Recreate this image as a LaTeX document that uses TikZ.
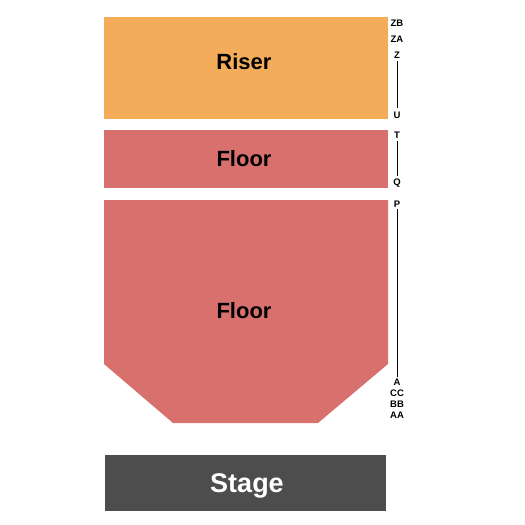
\documentclass[tikz,border=0pt]{standalone}
\usepackage{fontspec}
\setmainfont{Liberation Sans}
\definecolor{riser}{RGB}{243,173,90}
\definecolor{floorc}{RGB}{216,112,110}
\definecolor{stagec}{RGB}{77,77,77}
\begin{document}
\begin{tikzpicture}[x=1pt,y=-1pt,
  big/.style={font=\bfseries\fontsize{22}{22}\selectfont},
  row/.style={font=\bfseries\fontsize{9.5}{9.5}\selectfont, inner sep=0pt},
  rowline/.style={line width=0.9pt, black}]
\useasboundingbox (0,0) rectangle (525,525);
\fill[riser] (104,17) rectangle (388,119);
\fill[floorc] (104,130) rectangle (388,188);
\fill[floorc] (104,200) -- (388,200) -- (388,364) -- (318,423) -- (173,423) -- (104,364) -- cycle;
\fill[stagec] (105,455) rectangle (386,511);
\node[big] (riser) at (244,62) {Riser};
\node[big] (floor1) at (244,159) {Floor};
\node[big] (floor2) at (244,311) {Floor};
\node[font=\bfseries\fontsize{27}{27}\selectfont, text=white] (stage) at (247,486) {Stage};
\node[row] (zb) at (397,23) {ZB};
\node[row] (za) at (397,39) {ZA};
\node[row] (z) at (397,55) {Z};
\node[row] (u) at (397,115) {U};
\node[row] (t) at (397,135) {T};
\node[row] (q) at (397,183) {Q};
\node[row] (p) at (397,204) {P};
\node[row] (a) at (397,382) {A};
\node[row] (cc) at (397,393) {CC};
\node[row] (bb) at (397,404) {BB};
\node[row] (aa) at (397,415) {AA};
\draw[rowline] ([yshift=-3pt]z.south) -- ([yshift=3pt]u.north);
\draw[rowline] ([yshift=-3pt]t.south) -- ([yshift=3pt]q.north);
\draw[rowline] ([yshift=-2pt]p.south) -- ([yshift=2pt]a.north);
\end{tikzpicture}
\end{document}
